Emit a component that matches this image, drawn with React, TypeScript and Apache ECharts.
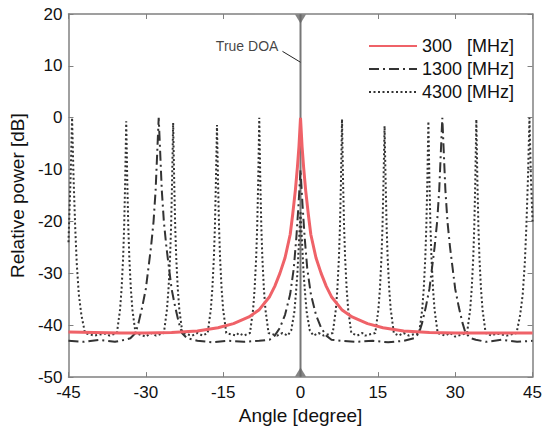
import React, { useEffect, useRef } from "react";
import * as echarts from "echarts";

// ---- Data ----
const xTicks = [-45, -30, -15, 0, 15, 30, 45];
const yTicks = [-50, -40, -30, -20, -10, 0, 10, 20];

const seriesNames = ["300   [MHz]", "1300 [MHz]", "4300 [MHz]"];

const red300: [number, number][] = [
  [-45, -41.3], [-40, -41.4], [-35, -41.5], [-30, -41.5], [-25, -41.4], [-20, -41.1],
  [-16, -40.5], [-13, -39.7], [-10, -38.4], [-8, -37], [-6, -34.5], [-5, -32.5],
  [-4, -30], [-3, -27], [-2, -22.5], [-1.5, -18.5], [-1, -14], [-0.6, -9.5],
  [-0.3, -5.5], [0, 0], [0.3, -5.5], [0.6, -9.5], [1, -14], [1.5, -18.5],
  [2, -22.5], [3, -27], [4, -30], [5, -32.5], [6, -34.5], [8, -37], [10, -38.4],
  [13, -39.7], [16, -40.5], [20, -41.1], [25, -41.4], [30, -41.5], [35, -41.5],
  [40, -41.5], [45, -41.5],
];

const dashDot1300: [number, number][] = [
  [-45, -43], [-42, -43.2], [-39, -42.8], [-36, -43.2], [-34, -42.8], [-33, -42.5],
  [-32, -41.5], [-31.4, -39.5], [-30.7, -36.5], [-30, -33], [-29.5, -29], [-29, -25],
  [-28.5, -20], [-28.1, -14], [-27.8, -7], [-27.5, 0], [-27.2, -7], [-26.9, -14],
  [-26.5, -20], [-26, -25], [-25.5, -29], [-25, -33], [-24.3, -36.5], [-23.6, -39.5],
  [-23, -41.5], [-22, -42.5], [-20, -43], [-17, -43.3], [-14, -43], [-11, -43.2],
  [-8, -43], [-6, -42.8], [-5, -42], [-4, -40.5], [-3, -38], [-2, -34], [-1.3, -29],
  [-0.8, -23], [-0.4, -17], [0, -10], [0.4, -17], [0.8, -23], [1.3, -29], [2, -34],
  [3, -38], [4, -40.5], [5, -42], [6, -42.8], [8, -43], [11, -43.2], [14, -43],
  [17, -43.3], [20, -43], [22, -42.5], [23, -41.5], [23.6, -39.5], [24.3, -36.5],
  [25, -33], [25.5, -29], [26, -25], [26.5, -20], [26.9, -14], [27.2, -7], [27.5, 0],
  [27.8, -7], [28.1, -14], [28.5, -20], [29, -25], [29.5, -29], [30, -33],
  [30.7, -36.5], [31.4, -39.5], [32, -41.5], [33, -42.5], [34, -42.8], [36, -43.2],
  [39, -42.8], [42, -43.2], [45, -43],
];

const dotted4300: [number, number][] = [
  [-45, -24], [-44.6, -12], [-44.3, 0], [-44.0, -12], [-43.7, -21], [-43.4, -28],
  [-43.0, -34], [-42.5, -38], [-41.8, -41.5],
  [-40, -42], [-38, -41.6], [-37, -42],
  [-35.6, -41.5], [-35.0, -37], [-34.7, -33], [-34.4, -27], [-34.2, -21], [-34.0, -12],
  [-33.8, -0.7], [-33.6, -12], [-33.4, -21], [-33.2, -27], [-32.9, -33], [-32.6, -37],
  [-32.0, -41.5],
  [-30, -42.2], [-29, -41.5], [-28, -42],
  [-26.5, -41.5], [-25.9, -37], [-25.6, -33], [-25.3, -27], [-25.1, -21], [-24.9, -12],
  [-24.7, -1.0], [-24.5, -12], [-24.3, -21], [-24.1, -27], [-23.8, -33], [-23.5, -37],
  [-22.9, -41.5],
  [-21, -42], [-20, -41.5], [-19, -42],
  [-18.0, -41.5], [-17.4, -37], [-17.1, -33], [-16.8, -27], [-16.6, -21], [-16.4, -12],
  [-16.2, -1.4], [-16.0, -12], [-15.8, -21], [-15.6, -27], [-15.3, -33], [-15.0, -37],
  [-14.4, -41.5],
  [-12.5, -42], [-12, -41.5], [-11, -42],
  [-9.8, -41.5], [-9.2, -37], [-8.9, -33], [-8.6, -27], [-8.4, -21], [-8.2, -12],
  [-8.0, 0], [-7.8, -12], [-7.6, -21], [-7.4, -27], [-7.1, -33], [-6.8, -37],
  [-6.2, -41.5],
  [-4.5, -42], [-3.5, -41.5], [-2.5, -42],
  [-1.8, -41], [-1.2, -37.5], [-0.9, -34], [-0.6, -30], [-0.4, -26], [-0.2, -22],
  [0, -18], [0.2, -22], [0.4, -26], [0.6, -30], [0.9, -34], [1.2, -37.5], [1.8, -41],
  [2.5, -42], [3.5, -41.5], [4.5, -42],
  [6.25, -41.5], [6.85, -37], [7.15, -33], [7.45, -27], [7.65, -21], [7.85, -12],
  [8.05, -0.3], [8.25, -12], [8.45, -21], [8.65, -27], [8.95, -33], [9.25, -37],
  [9.85, -41.5],
  [11, -42], [12, -41.5], [12.5, -42],
  [14.5, -41.5], [15.1, -37], [15.4, -33], [15.7, -27], [15.9, -21], [16.1, -12],
  [16.3, -1.6], [16.5, -12], [16.7, -21], [16.9, -27], [17.2, -33], [17.5, -37],
  [18.1, -41.5],
  [19, -42], [20, -41.5], [21, -42],
  [23.0, -41.5], [23.6, -37], [23.9, -33], [24.2, -27], [24.4, -21], [24.6, -12],
  [24.8, -0.7], [25.0, -12], [25.2, -21], [25.4, -27], [25.7, -33], [26.0, -37],
  [26.6, -41.5],
  [28, -42], [29, -41.5], [30, -42.2],
  [32.3, -41.5], [32.9, -37], [33.2, -33], [33.5, -27], [33.7, -21], [33.9, -12],
  [34.1, -0.3], [34.3, -12], [34.5, -21], [34.7, -27], [35.0, -33], [35.3, -37],
  [35.9, -41.5],
  [37, -42], [38, -41.6], [40, -42],
  [41.9, -41.5], [42.6, -38], [43.1, -34], [43.5, -28], [43.8, -21], [44.1, -12],
  [44.4, 0], [44.7, -12], [45, -20],
];

// True DOA vertical marker (angle 0, spanning the full y range)
const doaLine: [number, number][] = [[0, -50], [0, 20]];
const doaLabel = "True DOA";
const doaLabelPoint: [number, number] = [-4.1, 13.9];
const doaLeader: [number, number][] = [[-3.5, 12.8], [0, 10.7]];

const FONT = "'Liberation Sans', Arial, Helvetica, sans-serif";
const AXIS_COLOR = "#808080";

export default function App() {
  const ref = useRef<HTMLDivElement>(null);

  useEffect(() => {
    document.body.style.margin = "0";
    const chart = echarts.init(ref.current!, null, { renderer: "svg" });

    const xBase = {
      type: "value" as const,
      min: xTicks[0],
      max: xTicks[xTicks.length - 1],
      interval: 15,
      splitLine: { show: false },
      axisLine: { show: true, onZero: false, lineStyle: { color: AXIS_COLOR, width: 1.5 } },
      axisTick: { show: true, inside: true, length: 5, lineStyle: { color: AXIS_COLOR, width: 1 } },
    };
    const yBase = {
      type: "value" as const,
      min: yTicks[0],
      max: yTicks[yTicks.length - 1],
      interval: 10,
      splitLine: { show: false },
      axisLine: { show: true, onZero: false, lineStyle: { color: AXIS_COLOR, width: 1.5 } },
      axisTick: { show: true, inside: true, length: 5, lineStyle: { color: AXIS_COLOR, width: 1 } },
    };

    chart.setOption({
      animation: false,
      backgroundColor: "#ffffff",
      textStyle: { fontFamily: FONT },
      grid: { left: 68, right: 10, top: 14, bottom: 45, containLabel: false },
      legend: {
        orient: "vertical",
        left: 363,
        top: 32,
        itemWidth: 48,
        itemHeight: 14,
        itemGap: 5,
        data: seriesNames,
        itemStyle: { opacity: 0 },
        textStyle: { fontSize: 18, color: "#111", fontFamily: FONT },
      },
      xAxis: [
        {
          ...xBase,
          position: "bottom",
          name: "Angle [degree]",
          nameLocation: "middle",
          nameGap: 24,
          nameTextStyle: { fontSize: 19, color: "#111", fontFamily: FONT },
          axisLabel: { fontSize: 17, color: "#111", margin: 7, fontFamily: FONT },
        },
        { ...xBase, position: "top", axisLabel: { show: false } },
      ],
      yAxis: [
        {
          ...yBase,
          position: "left",
          name: "Relative power [dB]",
          nameLocation: "middle",
          nameGap: 35,
          nameTextStyle: { fontSize: 19, color: "#111", fontFamily: FONT },
          axisLabel: { fontSize: 17, color: "#111", margin: 6, fontFamily: FONT },
        },
        { ...yBase, position: "right", axisLabel: { show: false } },
      ],
      series: [
        {
          name: "doa",
          type: "line",
          data: doaLine,
          symbol: "none",
          z: 1,
          lineStyle: { color: "#777", width: 2 },
          silent: true,
        },
        {
          name: "doaTriangles",
          type: "scatter",
          z: 6,
          clip: false,
          symbol: "triangle",
          symbolSize: [11, 9],
          itemStyle: { color: "#666" },
          data: [
            { value: doaLine[1], symbolRotate: 180, symbolOffset: [0, 5] },
            { value: doaLine[0], symbolRotate: 0, symbolOffset: [0, -5] },
          ],
        },
        {
          name: "doaLeader",
          type: "line",
          data: doaLeader,
          symbol: "none",
          z: 5,
          lineStyle: { color: "#222", width: 1 },
        },
        {
          name: "doaText",
          type: "scatter",
          data: [doaLabelPoint],
          symbolSize: 0,
          z: 5,
          label: {
            show: true,
            position: "left",
            distance: 1,
            formatter: doaLabel,
            fontSize: 14,
            color: "#111",
            fontFamily: FONT,
          },
        },
        {
          name: seriesNames[2],
          type: "line",
          data: dotted4300,
          symbol: "none",
          z: 2,
          color: "#333",
          lineStyle: { color: "#333", width: 2, type: [2, 2.5] },
        },
        {
          name: seriesNames[1],
          type: "line",
          data: dashDot1300,
          symbol: "none",
          z: 3,
          color: "#333",
          lineStyle: { color: "#333", width: 2, type: [10, 4, 2, 4] },
        },
        {
          name: seriesNames[0],
          type: "line",
          data: red300,
          symbol: "none",
          z: 4,
          color: "#ef6268",
          lineStyle: { color: "#ef6268", width: 3 },
        },
      ],
    });

    return () => chart.dispose();
  }, []);

  return <div ref={ref} style={{ width: 545, height: 430 }} />;
}
